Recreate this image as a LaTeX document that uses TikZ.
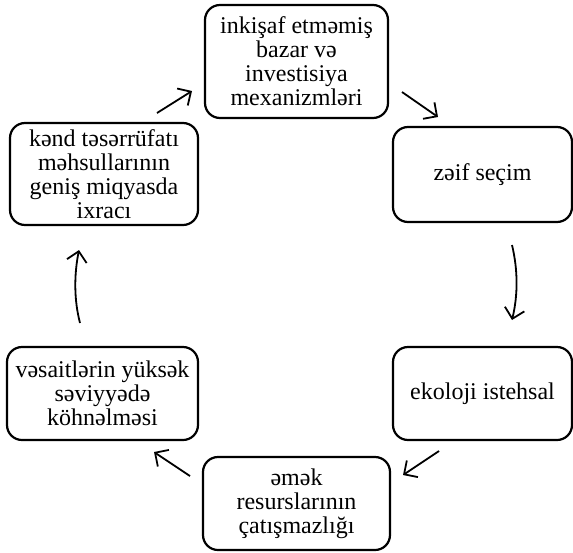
\documentclass[tikz,border=0pt]{standalone}
\usepackage{fontspec}
\setmainfont{Liberation Serif}
\usepackage{tikz}
\usetikzlibrary{arrows.meta}

\tikzset{
    cyclebox/.style={draw, line width=2.2pt, rounded corners=15pt, align=center, inner sep=0pt,
        font=\fontsize{24}{24}\selectfont},
    cyclearrow/.style={line width=1.8pt, -{Straight Barb[length=10pt,width=20pt]}}
}

\begin{document}
\begin{tikzpicture}[x=1pt,y=-1pt]
        \useasboundingbox (0,0) rectangle (573,552);

        % Boxes
        \node[cyclebox, minimum width=183pt, minimum height=113pt] (inkisaf) at (296.5,61.5) {inkişaf etməmiş\\bazar və\\investisiya\\mexanizmləri};
        \node[cyclebox, minimum width=179pt, minimum height=95pt] (zeif) at (482.5,174.5) {zəif seçim};
        \node[cyclebox, minimum width=179pt, minimum height=93pt] (ekoloji) at (482.5,393.5) {ekoloji istehsal};
        \node[cyclebox, minimum width=187pt, minimum height=93pt] (emek) at (296.5,503.5) {əmək\\resurslarının\\çatışmazlığı};
        \node[cyclebox, minimum width=191pt, minimum height=93pt] (vesait) at (102.5,393.5) {vəsaitlərin yüksək\\səviyyədə\\köhnəlməsi};
        \node[cyclebox, minimum width=188pt, minimum height=102pt] (kend) at (104,174) {kənd təsərrüfatı\\məhsullarının\\geniş miqyasda\\ixracı};

        % Arrow ends
        \coordinate (inkisafout) at (402,92);   \coordinate (zeifin) at (438,117);
        \coordinate (zeifout) at (512,245);     \coordinate (ekolojiin) at (512,320);
        \coordinate (ekolojiout) at (439,451);  \coordinate (emekin) at (403,475);
        \coordinate (emekout) at (190,476);     \coordinate (vesaitin) at (154,452);
        \coordinate (vesaitout) at (80,323);    \coordinate (kendin) at (79,250);
        \coordinate (kendout) at (157,113);     \coordinate (inkisafin) at (192,91);

        % Arrows
        \draw[cyclearrow] (inkisafout) -- (zeifin);
        \draw[cyclearrow] (zeifout) .. controls (518,270) and (518,295) .. (ekolojiin);
        \draw[cyclearrow] (ekolojiout) -- (emekin);
        \draw[cyclearrow] (emekout) -- (vesaitin);
        \draw[cyclearrow] (vesaitout) .. controls (74,300) and (74,275) .. (kendin);
        \draw[cyclearrow] (kendout) -- (inkisafin);
\end{tikzpicture}
\end{document}
